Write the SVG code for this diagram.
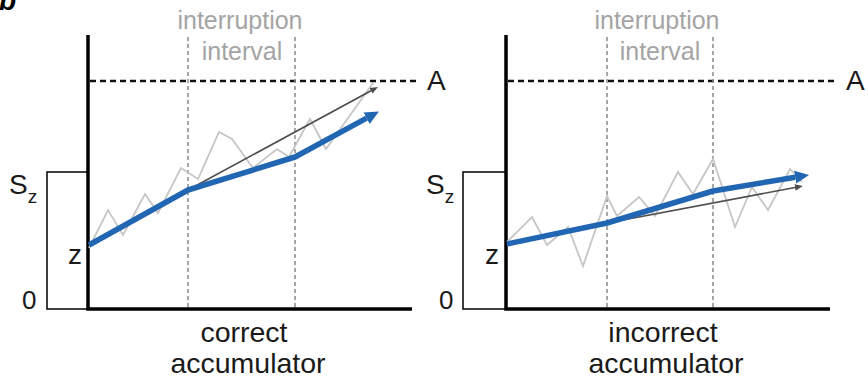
<svg xmlns="http://www.w3.org/2000/svg" width="868" height="383" viewBox="0 0 868 383">
<style>
text{font-family:"Liberation Sans",Arial,sans-serif;}
.lbl{fill:#1a1a1a;font-size:28px;}
.gtxt{fill:#a4a4a4;font-size:25px;text-anchor:middle;}
.cap{fill:#1a1a1a;font-size:28.5px;text-anchor:middle;}
.axis{stroke:#000;stroke-width:3.5;fill:none;}
.box{stroke:#000;stroke-width:1.5;fill:#fff;}
.thr{stroke:#111;stroke-width:2.5;stroke-dasharray:6 4;fill:none;}
.vdot{stroke:#8a8a8a;stroke-width:1.5;stroke-dasharray:4 3;fill:none;}
.noise{stroke:#c6c6c6;stroke-width:1.8;fill:none;stroke-linejoin:miter;}
.drift{stroke:#4d4d4d;stroke-width:1.6;fill:none;marker-end:url(#hg);}
.acc{stroke:#2166b2;stroke-width:5.5;fill:none;stroke-linejoin:round;marker-end:url(#hb);}
</style>
<defs>
<marker id="hb" markerUnits="userSpaceOnUse" viewBox="0 -8 16 16" markerWidth="16" markerHeight="16" refX="0" refY="0" orient="auto">
<path d="M0,-6.5 L14,0 L0,6.5 z" fill="#2166b2"/>
</marker>
<marker id="hg" markerUnits="userSpaceOnUse" viewBox="0 -5 10 10" markerWidth="10" markerHeight="10" refX="0" refY="0" orient="auto">
<path d="M0,-3.2 L8,0 L0,3.2 z" fill="#4d4d4d"/>
</marker>
</defs>
<text x="-1" y="10" style="font-size:28px;font-weight:bold;font-style:italic;fill:#000">b</text>

<g id="panel-correct">
<rect class="box" x="47" y="172" width="41" height="137"/>
<line class="thr" x1="90" y1="81" x2="418" y2="81"/>
<line class="vdot" x1="188" y1="37" x2="188" y2="308"/>
<line class="vdot" x1="295" y1="37" x2="295" y2="308"/>
<path class="axis" d="M88,35 V309 H412"/>
<text class="gtxt" x="240" y="29">interruption</text>
<text class="gtxt" x="242" y="60">interval</text>
<text class="lbl" x="427" y="90">A</text>
<text class="lbl" x="9" y="194">S<tspan style="font-size:19px" dy="9">z</tspan></text>
<text class="lbl" x="68" y="264">z</text>
<text class="lbl" x="22" y="309" style="font-size:26px">0</text>
<text class="cap" x="244" y="342">correct</text>
<text class="cap" x="248" y="373">accumulator</text>
</g>

<g id="panel-incorrect">
<rect class="box" x="463" y="172" width="43" height="137"/>
<line class="thr" x1="508" y1="81" x2="838" y2="81"/>
<line class="vdot" x1="607" y1="37" x2="607" y2="308"/>
<line class="vdot" x1="713" y1="37" x2="713" y2="308"/>
<path class="axis" d="M506,35 V309 H830"/>
<text class="gtxt" x="657" y="29">interruption</text>
<text class="gtxt" x="660" y="60">interval</text>
<text class="lbl" x="846" y="90">A</text>
<text class="lbl" x="426" y="194">S<tspan style="font-size:19px" dy="9">z</tspan></text>
<text class="lbl" x="485" y="264">z</text>
<text class="lbl" x="439" y="309" style="font-size:26px">0</text>
<text class="cap" x="663" y="342">incorrect</text>
<text class="cap" x="666" y="373">accumulator</text>
</g>

<g id="connectors">
<polyline class="noise" points="89,248 108,210 123,235 145,194 158,213 181,168 198,179 219,132 232,139 253,168 277,149 289,157 310,119 326,149 373,83"/>
<polyline class="noise" points="507,242 532,217 547,245 568,227 583,266 607,196 617,216 639,197 655,216 678,172 693,194 713,159 735,227 752,187 768,210 790,169 802,182"/>
<line class="drift" x1="188" y1="190" x2="371" y2="90.8"/>
<line class="drift" x1="607" y1="223" x2="795" y2="187.5"/>
<polyline class="acc" points="89,245 188,190 295,157 366.6,118.2"/>
<polyline class="acc" points="507,244 607,223 713,191 795.2,177.2"/>
</g>
</svg>
